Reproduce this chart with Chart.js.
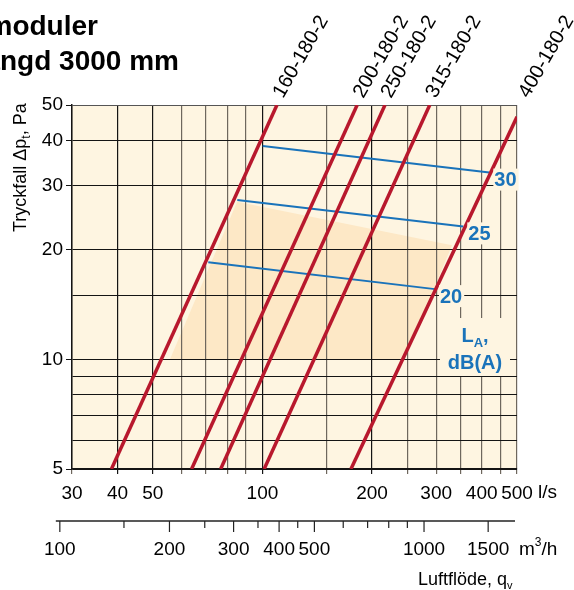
<!DOCTYPE html>
<html><head><meta charset="utf-8">
<script src="https://cdn.jsdelivr.net/npm/chart.js@4.4.1/dist/chart.umd.min.js"></script>
<style>html,body{margin:0;padding:0;background:#fff;overflow:hidden}#wrap{width:574px;height:590px;position:relative}</style>
</head><body><div id="wrap"><canvas id="c" width="574" height="590"></canvas></div>
<script>
// ---- data ----
const xTicks = [30,40,50,60,70,80,90,100,150,200,250,300,350,400,450,500];
const xTickLabels = [30,40,50,100,200,300,400,500];
const xDarkLines = [40,50,100,200];
const yTicks = [5,6,7,8,9,10,15,20,30,40,50];
const yTickLabels = [5,10,20,30,40,50];
const m3hMajor = [100,200,300,400,500,1000,1500];
const m3hMinor = [150,250,350,450,600,700,800,900];

const ductNames = ['160-180-2','200-180-2','250-180-2','315-180-2','400-180-2'];
const ductFlow = [[38.5,109.6],[63.9,182],[76.8,217],[101.1,288],[175,500]];
const ductPressure = [[5,50],[5,50],[5,50],[5,50],[5,46.4]];
const ductLabelFlow = [109.6,182,217,288,518]; // flow where each line reaches 50 Pa

const soundLevels = ['30','25','20'];
const soundFlow = [[100.2,419.8],[85.3,356],[71,297.7]];
const soundPressure = [[38.6,32.6],[27.4,23.2],[18.5,15.6]];

const areaFlow = [85.2,331.5,246,55.7];
const areaPressure = [27.1,20.6,10,10];

// ---- styling ----
const FONT = "'Liberation Sans', Arial, Helvetica, sans-serif";
Chart.defaults.font.family = FONT;
const BLACK = '#141414', GRAY = '#6e675d', RED = '#b8182d', BLUE = '#1a73ba';
const PLOT_BG = '#fef5e1', SHADE = '#fde8c6';

const datasets = [];
ductNames.forEach((n,i)=>datasets.push({
  label:n, data:ductFlow[i].map((v,j)=>({x:v,y:ductPressure[i][j]})),
  borderColor:RED, borderWidth:3.5, pointRadius:0, fill:false, tension:0, borderCapStyle:'butt'
}));
soundLevels.forEach((n,i)=>datasets.push({
  label:n, data:soundFlow[i].map((v,j)=>({x:v,y:soundPressure[i][j]})),
  borderColor:BLUE, borderWidth:2, pointRadius:0, fill:false, tension:0
}));

function txt(ctx, s, x, y, font, color, align, base){
  ctx.font = font; ctx.fillStyle = color; ctx.textAlign = align||'left'; ctx.textBaseline = base||'alphabetic';
  ctx.fillText(s, x, y);
}

const deco = {
  id:'deco',
  beforeDraw(chart){
    const {ctx, chartArea:a, scales:{x,y}} = chart;
    ctx.save();
    ctx.fillStyle = PLOT_BG;
    ctx.fillRect(a.left, a.top, a.right-a.left, a.bottom-a.top);
    ctx.beginPath();
    areaFlow.forEach((v,i)=>{
      const px = x.getPixelForValue(v), py = y.getPixelForValue(areaPressure[i]);
      if(i) ctx.lineTo(px,py); else ctx.moveTo(px,py);
    });
    ctx.closePath();
    ctx.fillStyle = SHADE; ctx.fill();
    ctx.restore();
  },
  afterDatasetsDraw(chart){
    const {ctx, chartArea:a, scales:{x,y}} = chart;
    ctx.save();
    // sound level labels
    ctx.font = 'bold 20px '+FONT;
    soundLevels.forEach((s,i)=>{
      const ex = x.getPixelForValue(soundFlow[i][1]), ey = y.getPixelForValue(soundPressure[i][1]);
      const w = ctx.measureText(s).width;
      const lx = ex+5, ly = ey+7;
      ctx.fillStyle = PLOT_BG;
      ctx.fillRect(lx-1, ly-11, w+3, 22);
      txt(ctx, s, lx, ly+1, 'bold 20px '+FONT, BLUE, 'left', 'middle');
    });
    // L_A, dB(A)
    const cx = 475;
    ctx.fillStyle = PLOT_BG;
    ctx.fillRect(cx-35, 318, 70, 58);
    ctx.font = 'bold 20px '+FONT;
    const wL = ctx.measureText('L').width;
    ctx.font = 'bold 13px '+FONT;
    const wA = ctx.measureText('A').width;
    ctx.font = 'bold 20px '+FONT;
    const wC = ctx.measureText(',').width;
    let sx = cx - (wL+wA+wC)/2;
    txt(ctx,'L',sx,342,'bold 20px '+FONT,BLUE);
    txt(ctx,'A',sx+wL,347,'bold 13px '+FONT,BLUE);
    txt(ctx,',',sx+wL+wA,342,'bold 20px '+FONT,BLUE);
    txt(ctx,'dB(A)',cx,369,'bold 20px '+FONT,BLUE,'center');

    // duct labels (rotated)
    ductNames.forEach((n,i)=>{
      const px = x.getPixelForValue(ductLabelFlow[i]), py = y.getPixelForValue(50);
      ctx.save();
      ctx.translate(px+6, py-6);
      ctx.rotate(-60*Math.PI/180);
      txt(ctx, n, 0, 0, '20px '+FONT, '#000');
      ctx.restore();
    });

    // unit l/s
    txt(ctx,'l/s',538,498,'19px '+FONT,'#000');

    // m3/h axis
    const ay = 521;
    const conv = v => x.getPixelForValue(v/3.6);
    ctx.strokeStyle = '#222'; ctx.lineWidth = 1.5;
    ctx.beginPath(); ctx.moveTo(conv(100)-4, ay); ctx.lineTo(a.right-2, ay); ctx.stroke();
    ctx.lineWidth = 1.2;
    m3hMajor.forEach(v=>{ const px=conv(v); ctx.beginPath(); ctx.moveTo(px,ay); ctx.lineTo(px,ay+11); ctx.stroke();
      txt(ctx,String(v),px,555,'19px '+FONT,'#000','center'); });
    m3hMinor.forEach(v=>{ const px=conv(v); ctx.beginPath(); ctx.moveTo(px,ay); ctx.lineTo(px,ay+7); ctx.stroke(); });
    txt(ctx,'m',519,555,'19px '+FONT,'#000');
    ctx.font='19px '+FONT; const wm = ctx.measureText('m').width;
    txt(ctx,'3',519+wm,546,'12px '+FONT,'#000');
    ctx.font='12px '+FONT; const w3 = ctx.measureText('3').width;
    txt(ctx,'/h',519+wm+w3,555,'19px '+FONT,'#000');

    // Luftflöde, q_v
    txt(ctx,'Luftflöde, q',418,585,'18px '+FONT,'#000');
    ctx.font='18px '+FONT; const wq = ctx.measureText('Luftflöde, q').width;
    txt(ctx,'v',418+wq,589,'11px '+FONT,'#000');

    // y-axis title
    ctx.save();
    ctx.translate(26,232); ctx.rotate(-Math.PI/2);
    txt(ctx,'Tryckfall Δp',0,0,'18px '+FONT,'#000');
    ctx.font='18px '+FONT; const w1 = ctx.measureText('Tryckfall Δp').width;
    txt(ctx,'t',w1,4,'12px '+FONT,'#000');
    ctx.font='12px '+FONT; const wt = ctx.measureText('t').width;
    txt(ctx,', Pa',w1+wt,0,'18px '+FONT,'#000');
    ctx.restore();

    // title (clipped at left edge as in the reference)
    ctx.font = 'bold 28px '+FONT;
    txt(ctx,'moduler',-12.5,35,'bold 28px '+FONT,'#000');
    const wla = ctx.measureText('lä').width;
    txt(ctx,'längd 3000 mm',-wla,70,'bold 28px '+FONT,'#000');
    ctx.restore();
  }
};

new Chart(document.getElementById('c'), {
  type:'line',
  data:{datasets},
  options:{
    responsive:false, animation:false, events:[],
    layout:{padding:{top:105,right:57,left:0,bottom:0}},
    plugins:{legend:{display:false}, tooltip:{enabled:false}, title:{display:false}},
    scales:{
      x:{
        type:'logarithmic', min:30, max:500,
        afterBuildTicks:s=>{ s.ticks = xTicks.map(v=>({value:v})); },
        afterFit:s=>{ s.height = 121; },
        ticks:{autoSkip:false, maxRotation:0, minRotation:0, padding:8, color:'#000', font:{size:19},
          callback:v=> xTickLabels.includes(v) ? String(v) : ''},
        grid:{color:c=> (c.tick && xDarkLines.includes(c.tick.value)) ? BLACK : GRAY, lineWidth:1.2, tickLength:5},
        border:{color:BLACK, width:1.5}
      },
      y:{
        type:'logarithmic', min:5, max:50,
        afterBuildTicks:s=>{ s.ticks = yTicks.map(v=>({value:v})); },
        afterFit:s=>{ s.width = 72; },
        ticks:{autoSkip:false, padding:3, color:'#000', font:{size:19},
          callback:v=> yTickLabels.includes(v) ? String(v) : ''},
        grid:{color:c=> (c.tick && c.tick.value===50) ? '#555' : BLACK, lineWidth:1,
          tickLength:6, tickColor:c=> (c.tick && yTickLabels.includes(c.tick.value)) ? BLACK : 'rgba(0,0,0,0)'},
        border:{color:BLACK, width:1.5}
      }
    }
  },
  plugins:[deco]
});
</script></body></html>
